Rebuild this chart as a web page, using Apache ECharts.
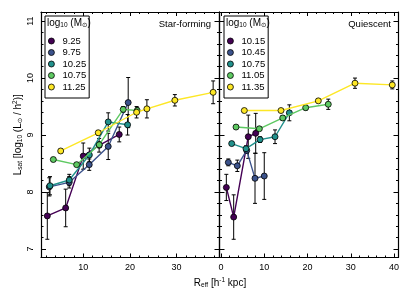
<!DOCTYPE html>
<html><head><meta charset="utf-8">
<script src="https://cdn.jsdelivr.net/npm/echarts@6/dist/echarts.min.js"></script>
<style>html,body{margin:0;padding:0;background:#fff}#c{width:411px;height:294px}</style>
</head><body><div id="c"></div>
<script>
// ---------------- data ----------------
const sfMassLabels = ['9.25', '9.75', '10.25', '10.75', '11.25'];
const qMassLabels = ['10.15', '10.45', '10.75', '11.05', '11.35'];
const massColors = ['#440154', '#3b528b', '#21918c', '#5ec962', '#fde725'];

// Star-forming: R_eff, L_sat, error
const sfR_925 = [2.29, 6.23, 9.99, 13.4, 17.71];
const sfL_925 = [7.58, 7.72, 8.63, 8.82, 9.01];
const sfE_925 = [0.41, 0.33, 0.23, 0.12, 0.13];

const sfR_975 = [2.72, 6.99, 11.28, 15.35, 19.63];
const sfL_975 = [8.09, 8.17, 8.48, 8.80, 9.57];
const sfE_975 = [0.16, 0.10, 0.10, 0.23, 0.44];

const sfR_1025 = [2.87, 7.00, 11.30, 15.35, 19.50];
const sfL_1025 = [8.11, 8.21, 8.65, 9.23, 9.18];
const sfE_1025 = [0.16, 0.10, 0.12, 0.16, 0.18];

const sfR_1075 = [3.58, 8.58, 13.42, 18.56, 21.56];
const sfL_1075 = [8.57, 8.48, 8.83, 9.45, 9.43];
const sfE_1075 = [0.03, 0.03, 0.05, 0.05, 0.05];

const sfR_1125 = [5.16, 13.21, 21.43, 23.64, 29.63, 37.84];
const sfL_1125 = [8.72, 9.04, 9.40, 9.46, 9.61, 9.75];
const sfE_1125 = [0.03, 0.04, 0.10, 0.16, 0.10, 0.20];

// Quiescent
const qR_1015 = [1.23, 2.93, 6.30, 8.02];
const qL_1015 = [8.08, 7.56, 8.97, 9.03];
const qE_1015 = [0.23, 0.39, 0.38, 0.35];

const qR_1045 = [1.69, 3.77, 5.94, 7.86, 10.00];
const qL_1045 = [8.52, 8.46, 8.73, 8.24, 8.28];
const qE_1045 = [0.06, 0.10, 0.05, 0.44, 0.41];

const qR_1075 = [2.47, 5.78, 9.02, 12.49, 15.80];
const qL_1075 = [8.85, 8.76, 8.92, 8.97, 9.39];
const qE_1075 = [0.03, 0.05, 0.05, 0.12, 0.14];

const qR_1105 = [3.47, 8.86, 14.27, 19.58, 24.80];
const qL_1105 = [9.14, 9.11, 9.30, 9.48, 9.54];
const qE_1105 = [0.03, 0.03, 0.04, 0.04, 0.09];

const qR_1135 = [5.39, 13.87, 22.50, 30.98, 39.60];
const qL_1135 = [9.43, 9.43, 9.60, 9.91, 9.88];
const qE_1135 = [0.03, 0.03, 0.03, 0.09, 0.07];

// axis ticks
const xTicksLeft = [10, 20, 30];
const xTicksRight = [0, 10, 20, 30, 40];
const yTicks = [7, 8, 9, 10, 11];
const xRangeLeft = [0.94, 39.2];
const xRangeRight = [-0.35, 41.04];
const yRange = [6.85, 11.16];

// ---------------- build ----------------
const FONT = "'Liberation Sans', 'DejaVu Sans', sans-serif";
function minorVals(range, step, majors) {
  const out = [];
  const start = Math.ceil(range[0] / step - 1e-9) * step;
  for (let v = start; v <= range[1] + 1e-9; v += step) {
    const r = Math.round(v * 100) / 100;
    if (!majors.some(m => Math.abs(m - r) < 1e-6)) out.push(r);
  }
  return out;
}
const xMinorLeft = minorVals(xRangeLeft, 2, xTicksLeft);
const xMinorRight = minorVals(xRangeRight, 2, xTicksRight);
const yMinor = minorVals(yRange, 0.2, yTicks);

function ax(grid, pos, range, vals, len, withLine, labels, extra) {
  const isY = pos === 'left' || pos === 'right';
  const a = {
    type: 'value', gridIndex: grid, position: pos, min: range[0], max: range[1],
    axisLine: { show: withLine, onZero: false, lineStyle: { color: '#000', width: 1.2 } },
    axisTick: { show: true, inside: true, length: len, customValues: vals, lineStyle: { color: '#000', width: 1 } },
    axisLabel: labels ? { show: true, customValues: labels, color: '#000', fontSize: 9, fontFamily: FONT,
      margin: 6, rotate: isY ? 90 : 0 } : { show: false },
    splitLine: { show: false }, minorTick: { show: false }, minorSplitLine: { show: false }
  };
  return Object.assign(a, extra || {});
}

const rich = {
  a: { fontSize: 10, lineHeight: 12, fontFamily: FONT, color: '#000', fontWeight: 'normal' },
  s: { fontSize: 6.5, lineHeight: 5, verticalAlign: 'bottom', fontFamily: FONT, color: '#000', fontWeight: 'normal' },
  u: { fontSize: 6.5, lineHeight: 5, verticalAlign: 'top', fontFamily: FONT, color: '#000', fontWeight: 'normal' }
};

const xAxes = [
  ax(0, 'bottom', xRangeLeft, xTicksLeft, 4, true, xTicksLeft),
  ax(0, 'bottom', xRangeLeft, xMinorLeft, 2, false, null),
  ax(0, 'top', xRangeLeft, xTicksLeft, 4, true, null),
  ax(0, 'top', xRangeLeft, xMinorLeft, 2, false, null),
  ax(1, 'bottom', xRangeRight, xTicksRight, 4, true, xTicksRight),
  ax(1, 'bottom', xRangeRight, xMinorRight, 2, false, null),
  ax(1, 'top', xRangeRight, xTicksRight, 4, true, null),
  ax(1, 'top', xRangeRight, xMinorRight, 2, false, null)
];
const yAxes = [
  ax(0, 'left', yRange, yTicks, 5, true, yTicks, {
    name: '{a|L}{s|sat}{a| [log}{s|10}{a| (L}{s|⊙}{a| / h}{u|2}{a|)]}',
    nameLocation: 'middle', nameRotate: 90, nameGap: 17,
    nameTextStyle: { rich: rich, fontSize: 10, color: '#000', fontFamily: FONT }
  }),
  ax(0, 'left', yRange, yMinor, 2.5, false, null),
  ax(0, 'right', yRange, yTicks, 5, true, null),
  ax(0, 'right', yRange, yMinor, 2.5, false, null),
  ax(1, 'left', yRange, yTicks, 5, true, null),
  ax(1, 'left', yRange, yMinor, 2.5, false, null),
  ax(1, 'right', yRange, yTicks, 5, true, null),
  ax(1, 'right', yRange, yMinor, 2.5, false, null)
];

const sfSets = [[sfR_925, sfL_925, sfE_925], [sfR_975, sfL_975, sfE_975], [sfR_1025, sfL_1025, sfE_1025],
  [sfR_1075, sfL_1075, sfE_1075], [sfR_1125, sfL_1125, sfE_1125]];
const qSets = [[qR_1015, qL_1015, qE_1015], [qR_1045, qL_1045, qE_1045], [qR_1075, qL_1075, qE_1075],
  [qR_1105, qL_1105, qE_1105], [qR_1135, qL_1135, qE_1135]];
// unique series names for the quiescent panel (trailing space, trimmed in legend)
const qSeriesNames = qMassLabels.map(n => n + ' ');

function errRender(params, api) {
  const x = api.value(0), y = api.value(1), e = api.value(2);
  const t = api.coord([x, y + e]), b = api.coord([x, y - e]);
  const w = 2, st = { stroke: '#000', lineWidth: 1 };
  return { type: 'group', children: [
    { type: 'line', shape: { x1: t[0], y1: t[1], x2: b[0], y2: b[1] }, style: st },
    { type: 'line', shape: { x1: t[0] - w, y1: t[1], x2: t[0] + w, y2: t[1] }, style: st },
    { type: 'line', shape: { x1: b[0] - w, y1: b[1], x2: b[0] + w, y2: b[1] }, style: st }
  ] };
}

const series = [];
function addPanel(sets, names, xi, yi) {
  sets.forEach((s, k) => {
    const rows = s[0].map((r, i) => [r, s[1][i], s[2][i]]);
    series.push({
      type: 'custom', name: 'err' + xi + '_' + k, xAxisIndex: xi, yAxisIndex: yi,
      data: rows, renderItem: errRender, encode: { x: 0, y: 1 }, z: 2, silent: true
    });
  });
  sets.forEach((s, k) => {
    series.push({
      type: 'line', name: names[k], xAxisIndex: xi, yAxisIndex: yi,
      data: s[0].map((r, i) => [r, s[1][i]]),
      symbol: 'circle', symbolSize: 6, showAllSymbol: true,
      lineStyle: { color: massColors[k], width: 1.4 },
      itemStyle: { color: massColors[k], borderColor: '#000', borderWidth: 0.8 },
      z: 3 + k
    });
  });
}
addPanel(sfSets, sfMassLabels, 0, 0);
addPanel(qSets, qSeriesNames, 4, 4);

function legendCfg(left, names) {
  return {
    data: names, left: left, top: 16, orient: 'vertical', icon: 'circle',
    itemWidth: 12, itemHeight: 6, itemGap: 1.5, padding: [20, 3, 6, 3],
    backgroundColor: '#fff', borderColor: '#000', borderWidth: 1, borderRadius: 0,
    textStyle: { fontSize: 9.5, lineHeight: 10, color: '#000', fontFamily: FONT },
    itemStyle: { borderColor: '#000', borderWidth: 0.8 },
    formatter: n => n.trim(), selectedMode: false
  };
}

const legendTitle = '{a|log}{s|10}{a| (M}{s|⊙}{a|)}';
const option = {
  animation: false,
  backgroundColor: '#fff',
  textStyle: { fontFamily: FONT, color: '#000' },
  grid: [
    { left: 41, top: 12, width: 178.5, height: 245.5, show: false, outerBoundsMode: 'none' },
    { left: 219.5, top: 12, width: 179, height: 245.5, show: false, outerBoundsMode: 'none' }
  ],
  xAxis: xAxes,
  yAxis: yAxes,
  legend: [legendCfg(45, sfMassLabels), legendCfg(224, qSeriesNames)],
  title: [
    { text: legendTitle, left: 47, top: 17, padding: 0, textStyle: { rich: rich, fontSize: 10, fontWeight: 'normal' } },
    { text: legendTitle, left: 226, top: 17, padding: 0, textStyle: { rich: rich, fontSize: 10, fontWeight: 'normal' } }
  ],
  graphic: [
    { type: 'text', x: 211, y: 24, z: 10, style: { text: 'Star-forming', align: 'right', verticalAlign: 'middle',
      fontSize: 9.5, fontFamily: FONT, fill: '#000' } },
    { type: 'text', x: 391, y: 24, z: 10, style: { text: 'Quiescent', align: 'right', verticalAlign: 'middle',
      fontSize: 9.5, fontFamily: FONT, fill: '#000' } },
    { type: 'text', x: 220, y: 283, z: 10, style: { text: '{a|R}{s|eff}{a| [h}{u|-1}{a| kpc]}', rich: rich,
      align: 'center', verticalAlign: 'middle', fontSize: 10, fontFamily: FONT, fill: '#000' } }
  ],
  series: series
};
const chart = echarts.init(document.getElementById('c'), null, { renderer: 'canvas' });
chart.setOption(option);
</script></body></html>
